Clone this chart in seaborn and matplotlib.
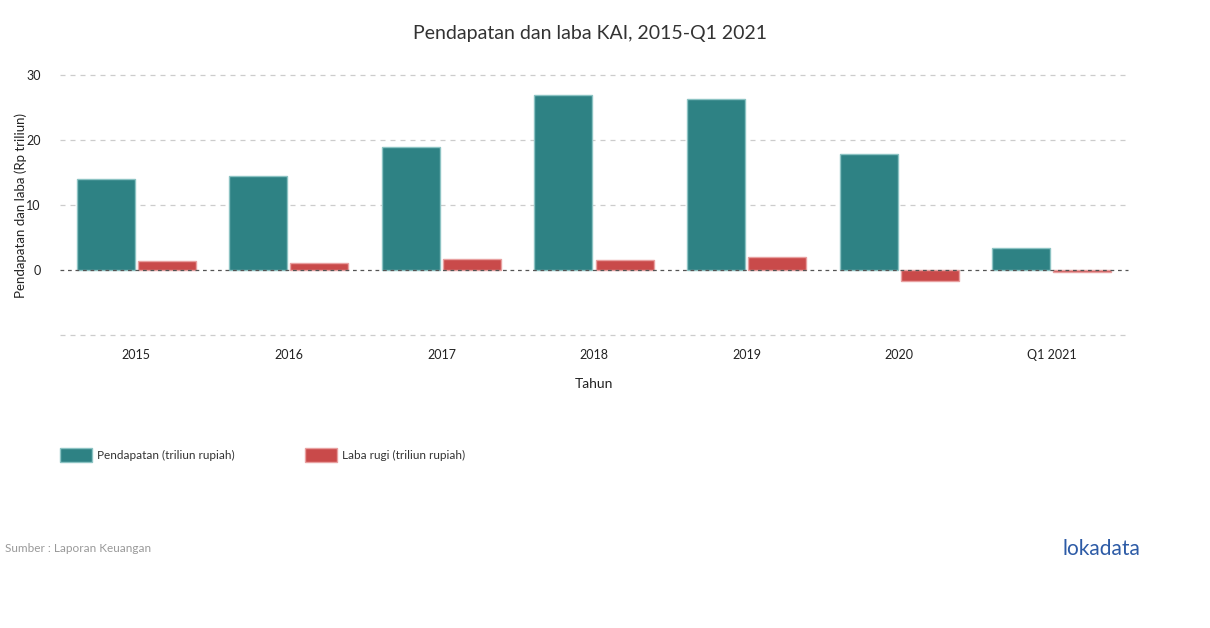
import pandas as pd
import matplotlib.pyplot as plt
import seaborn as sns

tahun = ["2015", "2016", "2017", "2018", "2019", "2020", "Q1 2021"]
pendapatan = [13.95, 14.4, 19.0, 26.9, 26.25, 17.9, 3.33]
laba_rugi = [1.4, 1.08, 1.64, 1.48, 1.95, -1.7, -0.3]
seri = ["Pendapatan (triliun rupiah)", "Laba rugi (triliun rupiah)"]
y_ticks = [-10, 0, 10, 20, 30]
y_tick_labels = ["", "0", "10", "20", "30"]

df = pd.DataFrame({
    "Tahun": tahun * 2,
    "nilai": pendapatan + laba_rugi,
    "seri": [seri[0]] * len(tahun) + [seri[1]] * len(tahun),
})

sns.set_style("white")
plt.rcParams['font.family'] = ['Lato', 'DejaVu Sans']

fig = plt.figure(figsize=(12.1, 6.28), dpi=100)
ax = fig.add_axes([60 / 1210, 1 - 335 / 628, 1068 / 1210, 260 / 628])

warna = {seri[0]: "#2e8284", seri[1]: "#c94a4a"}
tepi = {seri[0]: "#8cc3c3", seri[1]: "#e8a0a0"}
sns.barplot(data=df, x="Tahun", y="nilai", hue="seri", palette=warna,
            width=0.8, gap=0.05, ax=ax, legend=False, saturation=1)

# lighter edges like the original
for i, p in enumerate(ax.patches):
    p.set_edgecolor(tepi[seri[0]] if i < len(tahun) else tepi[seri[1]])
    p.set_linewidth(1)

ax.set_ylim(-10, 30)
ax.set_xlim(-0.5, len(tahun) - 0.5)
ax.set_yticks(y_ticks)
ax.set_yticklabels(y_tick_labels)
for y in y_ticks:
    if y == 0:
        ax.axhline(y, color="#555555", lw=0.9, ls=(0, (3, 3)), zorder=3, clip_on=False)
    else:
        ax.axhline(y, color="#cccccc", lw=0.9, ls=(0, (4, 4)), zorder=0, clip_on=False)

for s in ax.spines.values():
    s.set_visible(False)
ax.tick_params(axis="both", length=0, labelsize=9, colors="#222222")
ax.tick_params(axis="x", pad=10)
ax.tick_params(axis="y", pad=14)
ax.set_xlabel("Tahun", fontsize=10, color="#222222", labelpad=12)
ax.set_ylabel("Pendapatan dan laba (Rp triliun)", fontsize=9.5, color="#222222", labelpad=-1)

fig.text(590 / 1210, 1 - 33 / 628, "Pendapatan dan laba KAI, 2015-Q1 2021",
         ha="center", va="center", fontsize=14, color="#333333")

handles = [plt.Rectangle((0, 0), 1, 1, facecolor=warna[s], edgecolor=tepi[s]) for s in seri]
fig.legend(handles, seri, loc="center left", bbox_to_anchor=(60 / 1210, 1 - 455 / 628),
           ncol=2, frameon=False, fontsize=8.5, handlelength=2.7, handleheight=1.5,
           handletextpad=0.4, columnspacing=6.0, labelcolor="#333333",
           borderpad=0, borderaxespad=0)

fig.text(5 / 1210, 1 - 548 / 628, "Sumber : Laporan Keuangan", ha="left", va="center",
         fontsize=8.5, color="#999999")
fig.text(1140 / 1210, 1 - 549 / 628, "lokadata", ha="right", va="center",
         fontsize=15, color="#2d5ba6")

fig.savefig("out.png", dpi=100)
